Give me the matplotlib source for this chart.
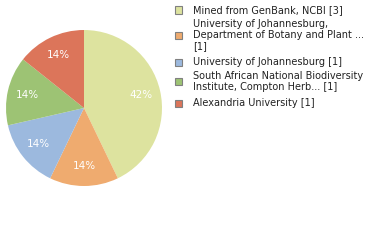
import matplotlib
matplotlib.use("Agg")
import matplotlib.pyplot as plt
from matplotlib.patches import Rectangle

labels = [
    "Mined from GenBank, NCBI [3]",
    "University of Johannesburg,\nDepartment of Botany and Plant ...\n[1]",
    "University of Johannesburg [1]",
    "South African National Biodiversity\nInstitute, Compton Herb... [1]",
    "Alexandria University [1]",
]
values = [3, 1, 1, 1, 1]
colors = ["#dde39f", "#efab6f", "#9cb9de", "#9dc374", "#dc755a"]

fig = plt.figure(figsize=(3.8, 2.4), dpi=100)
ax = fig.add_axes([0.0158, 0.225, 0.4105, 0.65])

def fmt(p):
    return f"{int(p)}%"

wedges, texts, autotexts = ax.pie(
    values, colors=colors, startangle=90, counterclock=False,
    autopct=fmt, pctdistance=0.75,
    wedgeprops=dict(linewidth=0),
    textprops=dict(color="white", fontsize=7.5, family="DejaVu Sans"),
)
ax.set_aspect("equal")
ax.set_xlim(-1, 1)
ax.set_ylim(-1, 1)
ax.axis("off")

# legend drawn manually in pixel coordinates
W, H = 380, 240
line_h = 11
y = 10
for lab, col in zip(labels, colors):
    n = lab.count("\n") + 1
    ymid = y + (n - 1) * line_h / 2
    fig.patches.append(Rectangle((175 / W, 1 - (ymid + 3.5) / H), 7 / W, 7 / H,
                                 transform=fig.transFigure, facecolor=col,
                                 edgecolor="#808080", linewidth=0.8))
    for i, ln in enumerate(lab.split("\n")):
        fig.text(193 / W, 1 - (y + i * line_h) / H, ln, fontsize=7,
                 color="#222222", va="center", ha="left", family="DejaVu Sans")
    y += n * line_h + (3 if n == 1 else 5)

fig.savefig("out.png", dpi=100)
